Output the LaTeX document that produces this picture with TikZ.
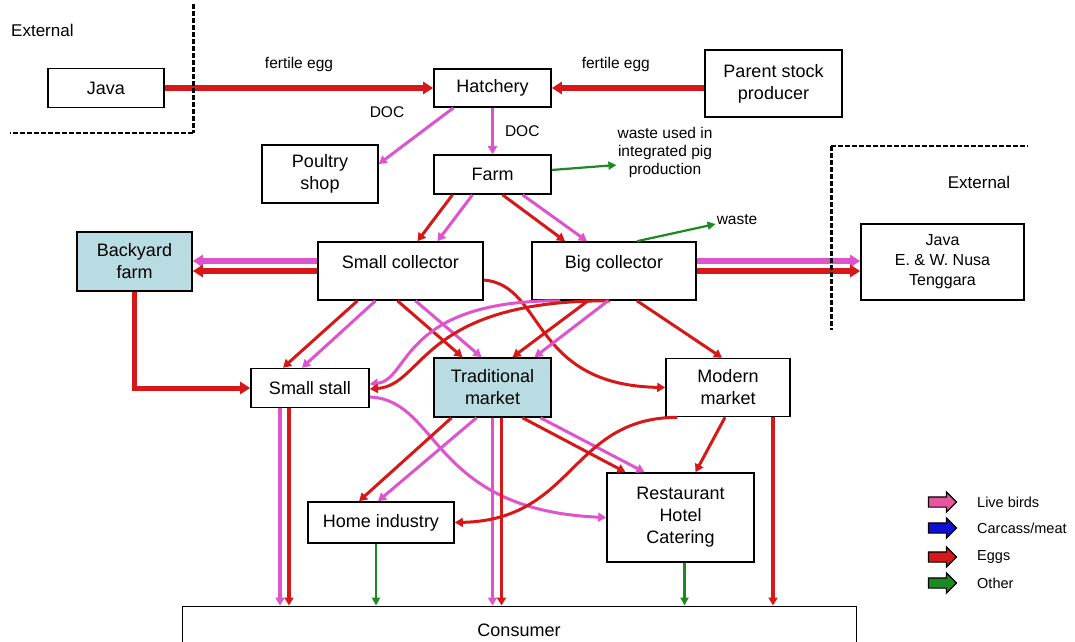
\documentclass[tikz,border=0pt]{standalone}
\usepackage{fontspec}
\setmainfont{Liberation Sans}
\usetikzlibrary{arrows.meta,shapes.arrows}

\definecolor{livepink}{RGB}{222,84,204}
\definecolor{eggred}{RGB}{214,24,24}
\definecolor{othergreen}{RGB}{28,138,34}
\definecolor{meatblue}{RGB}{16,16,210}
\definecolor{legpink}{RGB}{232,84,160}
\definecolor{marketblue}{RGB}{184,220,226}

\begin{document}
\begin{tikzpicture}[x=1pt, y=-1pt, font=\fontsize{18}{22}\selectfont,
    box/.style={draw, line width=1.6pt, align=center, inner sep=2pt},
    shaded/.style={box, fill=marketblue},
    tall/.style={text height=13pt, text depth=19pt},
    lbl/.style={font=\fontsize{15.5}{18}\selectfont, inner sep=1pt, align=center},
    flow/.style={line width=3pt, -{Triangle[length=8pt,width=9pt]}},
    big/.style={line width=5.5pt, -{Triangle[length=10pt,width=12pt]}},
    live/.style={flow, draw=livepink},
    egg/.style={flow, draw=eggred},
    livebig/.style={big, draw=livepink},
    eggbig/.style={big, draw=eggred},
    down/.style={line width=3.8pt},
    other/.style={line width=2.2pt, draw=othergreen, -{Triangle[length=8pt,width=8pt]}},
    bound/.style={draw, dash pattern=on 5pt off 2pt},
    legarrow/.style={single arrow, draw, line width=1.2pt, minimum height=28pt, single arrow head extend=5pt, inner sep=0pt},
    legtext/.style={lbl, anchor=west, font=\fontsize{14.5}{17}\selectfont}]
    \useasboundingbox (0,0) rectangle (1075,641);
    \fill[white] (0,0) rectangle (1075,641);

    \node[box, minimum width=116, minimum height=39] (java) at (106,88) {Java};
    \node[box, minimum width=117, minimum height=38] (hatch) at (492.5,88) {Hatchery};
    \node[box, minimum width=137, minimum height=67] (parent) at (773.5,83.5) {Parent stock\\producer};
    \node[box, minimum width=116, minimum height=58] (poultry) at (320,174) {Poultry\\shop};
    \node[box, minimum width=117, minimum height=39] (farm) at (492.5,174.5) {Farm};
    \node[shaded, minimum width=115, minimum height=59] (backyard) at (134.5,261.5) {Backyard\\farm};
    \node[box, tall, minimum width=165, minimum height=58] (smallcol) at (400.5,271) {Small collector};
    \node[box, tall, minimum width=164, minimum height=58] (bigcol) at (614,271) {Big collector};
    \node[box, minimum width=163, minimum height=76, font=\fontsize{16}{20}\selectfont] (javaE) at (942.5,262) {Java\\E. \& W. Nusa\\Tenggara};
    \node[box, minimum width=118, minimum height=39] (stall) at (310,388) {Small stall};
    \node[shaded, minimum width=117, minimum height=59] (trad) at (492.5,387.5) {Traditional\\market};
    \node[box, minimum width=124, minimum height=58] (modern) at (728,387.5) {Modern\\market};
    \node[box, minimum width=146, minimum height=41] (home) at (381,522.5) {Home industry};
    \node[box, minimum width=147, minimum height=89] (resto) at (680.5,517.5) {Restaurant\\Hotel\\Catering};
    \node[draw, line width=1pt, minimum width=674, minimum height=48] (consumer) at (519,630) {Consumer};

    \node[lbl, font=\fontsize{17}{20}\selectfont, anchor=west] (extleft) at (10,30) {External};
    \node[lbl, font=\fontsize{17}{20}\selectfont] (extright) at (979,182) {External};
    \node[lbl] (docleft) at (387,112) {DOC};
    \node[lbl] (pigtext) at (665,152) {waste used in\\integrated pig\\production};
    \node[lbl] (wastetext) at (737,220) {waste};

    \draw[eggbig] (java) -- (hatch) node[lbl, midway, above=13pt] {fertile egg};
    \draw[eggbig] (hatch.east -| parent.west) -- (hatch.east) node[lbl, pos=0.58, above=13pt] {fertile egg};
    \draw[live] ([xshift=-39pt]hatch.south) -- ([yshift=10pt]poultry.east);
    \draw[live] (hatch) -- (farm) node[lbl, midway, right=10pt] {DOC};
    \draw[other] (farm) -- ([yshift=-13pt]pigtext.west);

    \draw[egg] ([xshift=-40pt]farm.south) -- ([xshift=17pt]smallcol.north);
    \draw[live] ([xshift=-20pt]farm.south) -- ([xshift=37pt]smallcol.north);
    \draw[egg] ([xshift=10pt]farm.south) -- ([xshift=-49pt]bigcol.north);
    \draw[live] ([xshift=30pt]farm.south) -- ([xshift=-27pt]bigcol.north);
    \draw[other] ([xshift=23pt]bigcol.north) -- ([yshift=-4pt]wastetext.west);

    \draw[livebig] ([yshift=10pt]smallcol.west) -- ([yshift=10pt]smallcol.west -| backyard.east);
    \draw[eggbig] (smallcol.west) -- (smallcol.west -| backyard.east);
    \draw[livebig] ([yshift=10pt]bigcol.east) -- ([yshift=10pt]bigcol.east -| javaE.west);
    \draw[eggbig] (bigcol.east) -- (bigcol.east -| javaE.west);
    \draw[eggbig, line width=5pt] (backyard.south) |- (stall.west);

    \draw[egg] ([xshift=-43pt]smallcol.south) -- ([xshift=-27pt]stall.north);
    \draw[live] ([xshift=-25pt]smallcol.south) -- ([xshift=-8pt]stall.north);
    \draw[egg] ([xshift=-3pt]smallcol.south) -- ([xshift=-30pt]trad.north);
    \draw[live] ([xshift=15pt]smallcol.south) -- ([xshift=-11pt]trad.north);
    \draw[egg] ([yshift=-9pt]smallcol.east) .. controls (545,285) and (530,385) .. (modern.west);

    \draw[live] ([xshift=-54pt]bigcol.south) .. controls (400,300) and (410,380) .. ([yshift=4pt]stall.east);
    \draw[egg] ([xshift=-4pt]bigcol.south) .. controls (420,300) and (425,385) .. ([yshift=-1pt]stall.east);
    \draw[egg] ([xshift=-26pt]bigcol.south) -- ([xshift=20pt]trad.north);
    \draw[live] ([xshift=-6pt]bigcol.south) -- ([xshift=42pt]trad.north);
    \draw[egg] ([xshift=23pt]bigcol.south) -- ([xshift=-6pt]modern.north);

    \draw[live] ([yshift=-9pt]stall.east) .. controls (440,400) and (430,510) .. (resto.west);
    \draw[live, down] ([xshift=-30pt]stall.south) -- ([xshift=-30pt]stall.south |- consumer.north);
    \draw[egg, down] ([xshift=-21pt]stall.south) -- ([xshift=-21pt]stall.south |- consumer.north);

    \draw[egg] ([xshift=-41pt]trad.south) -- ([xshift=-22pt]home.north);
    \draw[live] ([xshift=-16pt]trad.south) -- ([xshift=-3pt]home.north);
    \draw[live, down] (trad.south) -- (trad.south |- consumer.north);
    \draw[egg, down] ([xshift=9pt]trad.south) -- ([xshift=9pt]trad.south |- consumer.north);
    \draw[egg] ([xshift=30pt]trad.south) -- ([xshift=-55pt]resto.north);
    \draw[live] ([xshift=48pt]trad.south) -- ([xshift=-36pt]resto.north);

    \draw[egg] ([xshift=-3pt]modern.south) -- ([xshift=15pt]resto.north);
    \draw[egg] ([xshift=-51pt]modern.south) .. controls (570,418) and (575,520) .. (home.east);
    \draw[egg, down] ([xshift=45pt]modern.south) -- ([xshift=45pt]modern.south |- consumer.north);

    \draw[other] ([xshift=-5pt]home.south) -- ([xshift=-5pt]home.south |- consumer.north);
    \draw[other] ([xshift=4pt]resto.south) -- ([xshift=4pt]resto.south |- consumer.north);

    \draw[bound, line width=3pt] (193,4) -- (193,133);
    \draw[bound, line width=1.5pt] (193,133) -- (10,133);
    \draw[bound, line width=3pt] (831,146) -- (831,330);
    \draw[bound, line width=1.5pt] (831,146) -- (1028,146);

    \node[legarrow, fill=legpink] (lglive) at (940,502) {\rule{0pt}{9pt}};
    \node[legarrow, fill=meatblue] (lgmeat) at (940,528) {\rule{0pt}{9pt}};
    \node[legarrow, fill=eggred] (lgegg) at (940,557) {\rule{0pt}{9pt}};
    \node[legarrow, fill=othergreen] (lgother) at (940,583) {\rule{0pt}{9pt}};
    \node[legtext] (lglivetext) at (976,502) {Live birds};
    \node[legtext] (lgmeattext) at (976,528) {Carcass/meat};
    \node[legtext] (lgeggtext) at (976,557) {Eggs};
    \node[legtext] (lgothertext) at (976,583) {Other};
\end{tikzpicture}
\end{document}
